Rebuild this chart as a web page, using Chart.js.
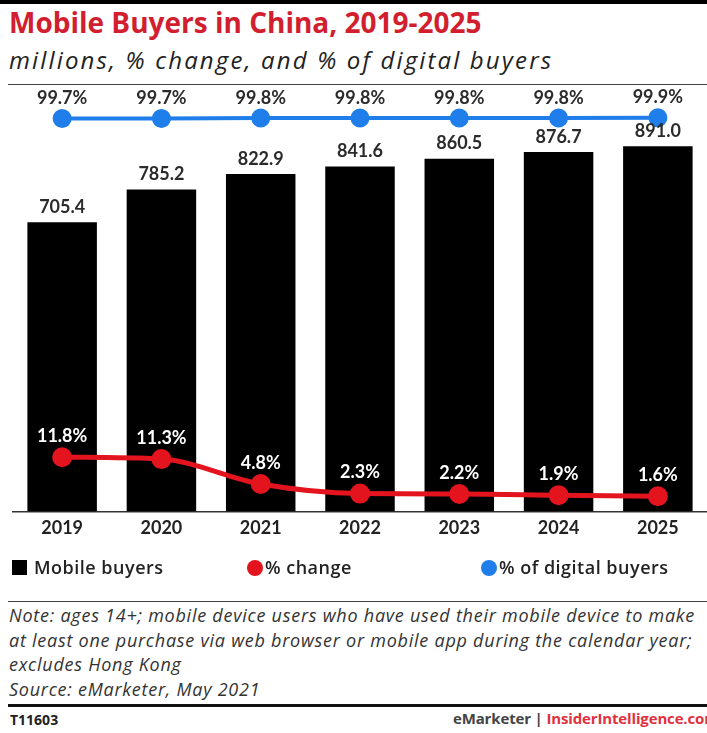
<!DOCTYPE html>
<html>
<head>
<meta charset="utf-8">
<script src="https://cdn.jsdelivr.net/npm/chart.js@4.4.1/dist/chart.umd.min.js"></script>
<style>
  html, body { margin: 0; padding: 0; background: #fff; }
  body { width: 707px; height: 733px; position: relative; overflow: hidden; font-family: "Open Sans", Lato, sans-serif; color: #222; }
  .abs { position: absolute; white-space: nowrap; }
  #topbar { left: 0; top: 0; width: 707px; height: 4px; background: #000; }
  #title { left: 9px; top: 4px; font-size: 28px; font-weight: 700; color: #d21f2f; line-height: 36px; letter-spacing: 0px; }
  #subtitle { left: 9px; top: 44px; font-size: 24px; font-style: italic; color: #222; line-height: 32px; letter-spacing: 2.15px; }
  #rule1 { left: 8px; top: 84px; width: 699px; height: 1px; background: #444; }
  #chartWrap { left: 0; top: 0; width: 720px; height: 600px; }
  .leg { top: 555px; font-size: 18px; font-weight: 600; color: #222; line-height: 24px; letter-spacing: 0.5px; }
  .sw { position: absolute; top: 560px; }
  #rule2 { left: 8px; top: 601px; width: 699px; height: 1px; background: #444; }
  #note { left: 9px; top: 603px; font-size: 18px; font-style: italic; color: #333; line-height: 24.6px; letter-spacing: 0.75px; }
  #rule3 { left: 8px; top: 704px; width: 699px; height: 3px; background: #111; }
  #code { left: 10px; top: 710px; font-size: 14px; font-weight: 700; color: #222; line-height: 20px; }
  #brand { left: 453px; top: 708px; font-size: 15px; font-weight: 700; color: #444; line-height: 20px; letter-spacing: -0.15px; }
  #brand span { color: #e0313f; }
</style>
</head>
<body>
<div id="topbar" class="abs"></div>
<div id="title" class="abs">Mobile Buyers in China, 2019-2025</div>
<div id="subtitle" class="abs">millions, % change, and % of digital buyers</div>
<div id="rule1" class="abs"></div>
<div id="chartWrap" class="abs"><canvas id="chart" width="720" height="600"></canvas></div>

<div class="sw" style="left:12px; width:15px; height:15px; background:#000;"></div>
<div class="abs leg" style="left:34px;">Mobile buyers</div>
<div class="sw" style="left:247px; width:16px; height:16px; border-radius:50%; background:#e3141d;"></div>
<div class="abs leg" style="left:265px;">% change</div>
<div class="sw" style="left:481px; width:16px; height:16px; border-radius:50%; background:#1f7eea;"></div>
<div class="abs leg" style="left:499px;">% of digital buyers</div>

<div id="rule2" class="abs"></div>
<div id="note" class="abs">Note: ages 14+; mobile device users who have used their mobile device to make<br>at least one purchase via web browser or mobile app during the calendar year;<br>excludes Hong Kong<br>Source: eMarketer, May 2021</div>
<div id="rule3" class="abs"></div>
<div id="code" class="abs">T11603</div>
<div id="brand" class="abs">eMarketer | <span>InsiderIntelligence.com</span></div>

<script>
// Years on the x axis
const years = ['2019', '2020', '2021', '2022', '2023', '2024', '2025'];
// Mobile buyers, millions
const mobileBuyers = [705.4, 785.2, 822.9, 841.6, 860.5, 876.7, 891.0];
// Year-over-year % change
const pctChange = [11.8, 11.3, 4.8, 2.3, 2.2, 1.9, 1.6];
// Mobile buyers as % of digital buyers
const pctDigital = [99.7, 99.7, 99.8, 99.8, 99.8, 99.8, 99.9];

const FONT = 'Lato, "Open Sans", sans-serif';

// Writes each dataset's value above its marks
const valueLabels = {
  id: 'valueLabels',
  afterDatasetsDraw(chart) {
    const ctx = chart.ctx;
    chart.data.datasets.forEach((ds, i) => {
      const meta = chart.getDatasetMeta(i);
      const cfg = ds.labelStyle;
      ctx.save();
      ctx.font = '700 18px ' + FONT;
      ctx.fillStyle = cfg.color;
      ctx.textAlign = 'center';
      ctx.textBaseline = 'middle';
      meta.data.forEach((el, j) => {
        ctx.fillText(cfg.format(ds.data[j]), el.x, el.y - cfg.offset);
      });
      ctx.restore();
    });
  }
};

new Chart(document.getElementById('chart'), {
  data: {
    labels: years,
    datasets: [
      {
        type: 'line',
        label: '% of digital buyers',
        data: pctDigital,
        yAxisID: 'yDigital',
        borderColor: '#1f7eea',
        backgroundColor: '#1f7eea',
        borderWidth: 4,
        pointRadius: 7.5,
        pointHoverRadius: 7.5,
        order: 1,
        labelStyle: { color: '#2b2b2b', offset: 20, format: v => v.toFixed(1) + '%' }
      },
      {
        type: 'line',
        label: '% change',
        data: pctChange,
        yAxisID: 'yChange',
        borderColor: '#e3141d',
        backgroundColor: '#e3141d',
        borderWidth: 5,
        pointRadius: 7.5,
        pointHoverRadius: 7.5,
        cubicInterpolationMode: 'monotone',
        order: 2,
        labelStyle: { color: '#ffffff', offset: 21, format: v => v.toFixed(1) + '%' }
      },
      {
        type: 'bar',
        label: 'Mobile buyers',
        data: mobileBuyers,
        yAxisID: 'yBuyers',
        backgroundColor: '#000',
        categoryPercentage: 1,
        barPercentage: 0.7,
        order: 3,
        labelStyle: { color: '#2b2b2b', offset: 15, format: v => v.toFixed(1) }
      }
    ]
  },
  options: {
    responsive: false,
    animation: false,
    layout: { padding: { left: 9, right: 7, top: 101.5, bottom: 55 } },
    plugins: { legend: { display: false }, tooltip: { enabled: false } },
    scales: {
      x: {
        grid: { display: false, drawTicks: false, tickLength: 0 },
        border: { display: true, color: '#333', width: 1.5 },
        ticks: { color: '#222', font: { family: FONT, size: 18, weight: '700' }, padding: 6 }
      },
      yBuyers: { display: false, min: 0, max: 1000 },
      yChange: { display: false, min: -2.34, max: 104.6 },
      yDigital: { display: false, min: 0, max: 104 }
    }
  },
  plugins: [valueLabels]
});
</script>
</body>
</html>
